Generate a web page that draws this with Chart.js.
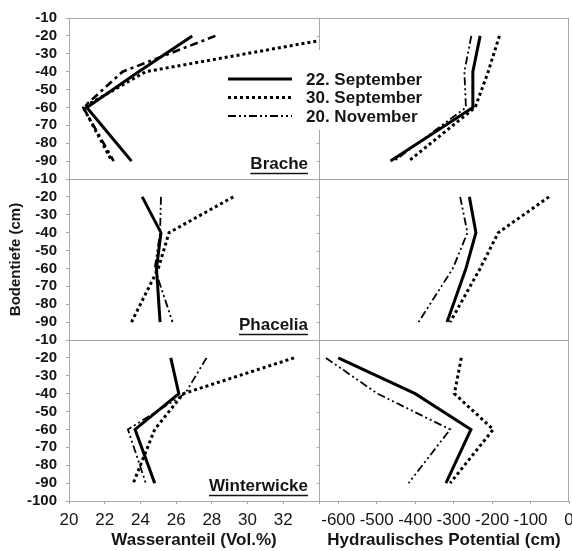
<!DOCTYPE html>
<html>
<head>
<meta charset="utf-8">
<script src="https://cdn.jsdelivr.net/npm/chart.js@4/dist/chart.umd.min.js"></script>
<style>
  html, body { margin: 0; padding: 0; background: #ffffff; }
  #wrap { width: 572px; height: 551px; position: relative; }
</style>
</head>
<body>
<div id="wrap"><canvas id="profiles" width="572" height="551"></canvas></div>
<script>
// Sampling depths (cm) of every profile
const depths = [-20, -40, -60, -90];

// Measurement dates and plots
const seriesLabels = ['22. September', '30. September', '20. November'];
const sites = ['Brache', 'Phacelia', 'Winterwicke'];

// Wasseranteil (Vol.%) per plot and date, ordered like depths
const bracheWater22Sep = [26.9, 23.9, 21.0, 23.5];
const bracheWater30Sep = [35.5, 24.3, 20.8, 22.4];
const bracheWater20Nov = [28.2, 23.0, 20.8, 22.5];

const phaceliaWater22Sep = [24.1, 25.15, 24.9, 25.1];
const phaceliaWater30Sep = [29.2, 25.6, 25.0, 23.5];
const phaceliaWater20Nov = [25.15, 25.1, 24.8, 25.8];

const winterwickeWater22Sep = [25.7, 26.15, 23.7, 24.8];
const winterwickeWater30Sep = [32.6, 26.4, 24.8, 23.6];
const winterwickeWater20Nov = [27.7, 26.5, 23.3, 24.3];

// Hydraulisches Potential (cm) per plot and date
const brachePot22Sep = [-231, -250, -250, -464];
const brachePot30Sep = [-181, -210, -244, -417];
const brachePot20Nov = [-254, -272, -268, -455];

const phaceliaPot22Sep = [-259, -242, -268, -317];
const phaceliaPot30Sep = [-52, -184, -231, -309];
const phaceliaPot20Nov = [-283, -264, -302, -391];

const winterwickePot22Sep = [-600, -400, -255, -320];
const winterwickePot30Sep = [-280, -298, -197, -309];
const winterwickePot20Nov = [-632, -498, -309, -417];

// Axis ranges and tick values
const depthMin = -100, depthMax = -10, depthStep = 10;
const waterMin = 20, waterMax = 34, waterStep = 2;
const potentialMin = -650, potentialMax = 0;
const potentialTicks = [-600, -500, -400, -300, -200, -100, 0];

const waterBySite = [
  [bracheWater22Sep, bracheWater30Sep, bracheWater20Nov],
  [phaceliaWater22Sep, phaceliaWater30Sep, phaceliaWater20Nov],
  [winterwickeWater22Sep, winterwickeWater30Sep, winterwickeWater20Nov]
];
const potentialBySite = [
  [brachePot22Sep, brachePot30Sep, brachePot20Nov],
  [phaceliaPot22Sep, phaceliaPot30Sep, phaceliaPot20Nov],
  [winterwickePot22Sep, winterwickePot30Sep, winterwickePot20Nov]
];

const yIds = ['yBrache', 'yPhacelia', 'yWinterwicke'];
const FONT = "'Liberation Sans', Arial, Helvetica, sans-serif";
const TEXT = '#151515';
const FRAME = '#a8a8a8';

const lineStyles = [
  { borderWidth: 3, borderDash: [] },
  { borderWidth: 3, borderDash: [3, 3] },
  { borderWidth: 1.8, borderDash: [8, 3, 2, 3, 2, 3] }
];

function profile(values, k, xId, yId, styleOverride) {
  const style = Object.assign({}, lineStyles[k], styleOverride || {});
  return {
    label: seriesLabels[k],
    data: depths.map((d, i) => ({ x: values[i], y: d })),
    xAxisID: xId,
    yAxisID: yId,
    borderColor: '#000000',
    backgroundColor: '#000000',
    borderWidth: style.borderWidth,
    borderDash: style.borderDash,
    borderCapStyle: 'butt',
    borderJoinStyle: 'miter',
    pointRadius: 0,
    pointHoverRadius: 0,
    fill: false,
    tension: 0
  };
}

const datasets = [];
sites.forEach((site, s) => {
  seriesLabels.forEach((lab, k) => {
    // the November profile of the fallow plot is drawn with a heavier dash-dot
    const over = (s === 0 && k === 2) ? { borderWidth: 2.6, borderDash: [8, 4, 3, 4] } : null;
    datasets.push(profile(waterBySite[s][k], k, 'xWater', yIds[s], over));
  });
  seriesLabels.forEach((lab, k) => {
    datasets.push(profile(potentialBySite[s][k], k, 'xPotential', yIds[s]));
  });
});

function depthAxis(s) {
  const last = s === sites.length - 1;
  const axis = {
    type: 'linear',
    position: 'left',
    stack: 'depth',
    stackWeight: 1,
    weight: sites.length - s,
    min: depthMin,
    max: depthMax,
    grid: { display: true, drawOnChartArea: false, drawTicks: true, tickLength: 3, color: FRAME, lineWidth: 1 },
    border: { display: false },
    ticks: {
      stepSize: depthStep,
      autoSkip: false,
      padding: 9,
      color: TEXT,
      font: { family: FONT, size: 15, weight: 'bold' },
      callback: (v) => (!last && v === depthMin) ? '' : String(v)
    },
    afterFit: (scale) => { scale.width = 69; }
  };
  if (s === 1) {
    axis.title = {
      display: true,
      text: 'Bodentiefe (cm)',
      color: TEXT,
      font: { family: FONT, size: 15, weight: 'bold' },
      padding: { top: 7, bottom: 0 }
    };
  }
  return axis;
}

// Frame, dividers, clipping per panel, panel names and legend
const panelDecor = {
  id: 'panelDecor',
  beforeDatasetsDraw(chart, args, opts) {
    const { ctx, chartArea: a, scales } = chart;
    const xw = scales.xWater;
    ctx.save();
    ctx.strokeStyle = FRAME;
    ctx.lineWidth = 1;
    const px = (v) => Math.round(v) + 0.5;
    ctx.beginPath();
    ctx.moveTo(px(a.left), a.top); ctx.lineTo(px(a.left), a.bottom);
    ctx.moveTo(px(a.right) - 1, a.top); ctx.lineTo(px(a.right) - 1, a.bottom);
    ctx.moveTo(px(xw.right), a.top); ctx.lineTo(px(xw.right), a.bottom);
    yIds.forEach((id) => {
      const ys = scales[id];
      ctx.moveTo(a.left, px(ys.top)); ctx.lineTo(a.right, px(ys.top));
      ctx.moveTo(a.left, px(ys.bottom)); ctx.lineTo(a.right, px(ys.bottom));
      ys.ticks.forEach((t) => {
        const y = px(ys.getPixelForValue(t.value));
        ctx.moveTo(px(xw.right) - 3, y); ctx.lineTo(px(xw.right), y);
      });
    });
    ctx.stroke();
    // white legend background hides the divider behind the legend text
    const L = opts.legend;
    ctx.fillStyle = '#ffffff';
    ctx.fillRect(L.boxLeft, L.boxTop, L.boxWidth, L.boxHeight);
    ctx.restore();
  },
  beforeDatasetDraw(chart, args) {
    const { xScale, yScale } = args.meta;
    const ctx = chart.ctx;
    ctx.save();
    ctx.beginPath();
    ctx.rect(xScale.left, yScale.top, xScale.right - xScale.left, yScale.bottom - yScale.top);
    ctx.clip();
  },
  afterDatasetDraw(chart) {
    chart.ctx.restore();
  },
  afterDatasetsDraw(chart, args, opts) {
    const { ctx, scales } = chart;
    const xw = scales.xWater;
    ctx.save();
    // plot names, underlined, bottom right of each water panel
    ctx.fillStyle = TEXT;
    ctx.strokeStyle = TEXT;
    ctx.font = `bold ${opts.nameSize}px ${FONT}`;
    ctx.textAlign = 'right';
    ctx.textBaseline = 'middle';
    sites.forEach((name, s) => {
      const ys = scales[yIds[s]];
      const x = xw.right - opts.nameInset;
      const y = ys.bottom - opts.nameLift;
      ctx.fillText(name, x, y);
      const w = ctx.measureText(name).width;
      ctx.lineWidth = 1.6;
      ctx.beginPath();
      ctx.moveTo(x - w, y + opts.nameSize * 0.5 + 0.5);
      ctx.lineTo(x, y + opts.nameSize * 0.5 + 0.5);
      ctx.stroke();
    });
    // legend entries
    const L = opts.legend;
    ctx.font = `bold ${L.size}px ${FONT}`;
    ctx.textAlign = 'left';
    seriesLabels.forEach((lab, k) => {
      const y = L.top + k * L.row;
      const st = lineStyles[k];
      ctx.strokeStyle = '#000000';
      ctx.lineWidth = st.borderWidth;
      ctx.lineCap = 'butt';
      ctx.setLineDash(st.borderDash);
      ctx.beginPath();
      ctx.moveTo(L.left, y);
      ctx.lineTo(L.left + L.sample, y);
      ctx.stroke();
      ctx.setLineDash([]);
      ctx.fillStyle = TEXT;
      ctx.fillText(lab, L.left + L.sample + L.gap, y + 1);
    });
    ctx.restore();
  }
};

new Chart(document.getElementById('profiles'), {
  type: 'line',
  data: { datasets },
  plugins: [panelDecor],
  options: {
    responsive: false,
    animation: false,
    devicePixelRatio: 1,
    layout: { padding: { top: 16, right: 3, bottom: 0, left: 0 } },
    interaction: { mode: null },
    events: [],
    plugins: {
      legend: { display: false },
      tooltip: { enabled: false },
      panelDecor: {
        nameSize: 17,
        nameInset: 11,
        nameLift: 14.5,
        legend: {
          left: 228, top: 79, row: 18.5, sample: 64, gap: 14, size: 17,
          boxLeft: 298, boxTop: 50, boxWidth: 134, boxHeight: 80
        }
      }
    },
    scales: {
      xWater: {
        type: 'linear',
        position: 'bottom',
        stack: 'values',
        stackWeight: 1,
        weight: 1,
        min: waterMin,
        max: waterMax,
        grid: { display: true, drawOnChartArea: false, drawTicks: true, tickLength: 3, color: FRAME, lineWidth: 1 },
        border: { display: false },
        ticks: {
          stepSize: waterStep,
          autoSkip: false,
          maxRotation: 0,
          padding: 6,
          color: TEXT,
          font: { family: FONT, size: 17 },
          callback: (v) => v === waterMax ? '' : String(v)
        },
        title: {
          display: true,
          text: 'Wasseranteil (Vol.%)',
          color: TEXT,
          font: { family: FONT, size: 17, weight: 'bold' },
          padding: { top: 0, bottom: 0 }
        },
        afterFit: (scale) => { scale.height = 50; scale.paddingLeft = 0; scale.paddingRight = 0; }
      },
      xPotential: {
        type: 'linear',
        position: 'bottom',
        stack: 'values',
        stackWeight: 1,
        weight: 2,
        min: potentialMin,
        max: potentialMax,
        afterBuildTicks: (scale) => { scale.ticks = potentialTicks.map((v) => ({ value: v })); },
        grid: { display: true, drawOnChartArea: false, drawTicks: true, tickLength: 3, color: FRAME, lineWidth: 1 },
        border: { display: false },
        ticks: {
          autoSkip: false,
          maxRotation: 0,
          padding: 6,
          color: TEXT,
          font: { family: FONT, size: 17 },
          callback: (v) => String(v)
        },
        title: {
          display: true,
          text: 'Hydraulisches Potential (cm)',
          color: TEXT,
          font: { family: FONT, size: 17, weight: 'bold' },
          padding: { top: 0, bottom: 0 }
        },
        afterFit: (scale) => { scale.height = 50; scale.paddingLeft = 0; scale.paddingRight = 0; }
      },
      yBrache: depthAxis(0),
      yPhacelia: depthAxis(1),
      yWinterwicke: depthAxis(2)
    }
  }
});
</script>
</body>
</html>
